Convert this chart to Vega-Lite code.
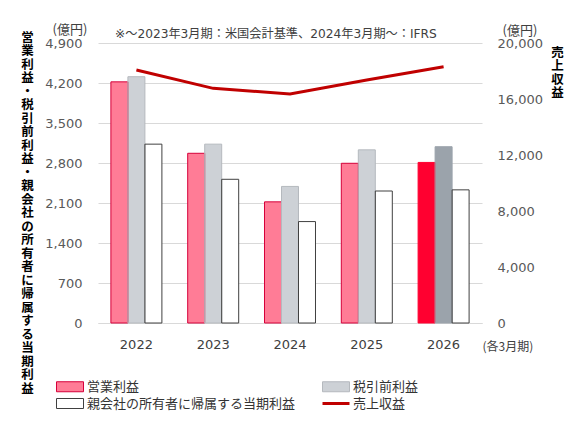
{
  "$schema": "https://vega.github.io/schema/vega-lite/v6.json",
  "width": 384,
  "height": 280,
  "autosize": "none",
  "padding": {"left": 98, "top": 43, "right": 102, "bottom": 102},
  "background": "white",
  "title": {
    "text": "※～2023年3月期：米国会計基準、2024年3月期～：IFRS",
    "anchor": "start",
    "frame": "group",
    "dx": 17,
    "dy": 33,
    "offset": 4,
    "baseline": "bottom",
    "font": "DejaVu Sans, Noto Sans CJK JP",
    "fontSize": 12.2,
    "fontWeight": "normal",
    "color": "#404040"
  },
  "datasets": {
    "bars": [
      {"year": "2022", "series": "営業利益", "group": "営業利益", "value": 4220},
      {"year": "2022", "series": "税引前利益", "group": "税引前利益", "value": 4310},
      {"year": "2022", "series": "親会社の所有者に帰属する当期利益", "group": "親会社の所有者に帰属する当期利益", "value": 3130},
      {"year": "2023", "series": "営業利益", "group": "営業利益", "value": 2970},
      {"year": "2023", "series": "税引前利益", "group": "税引前利益", "value": 3130},
      {"year": "2023", "series": "親会社の所有者に帰属する当期利益", "group": "親会社の所有者に帰属する当期利益", "value": 2515},
      {"year": "2024", "series": "営業利益", "group": "営業利益", "value": 2120},
      {"year": "2024", "series": "税引前利益", "group": "税引前利益", "value": 2390},
      {"year": "2024", "series": "親会社の所有者に帰属する当期利益", "group": "親会社の所有者に帰属する当期利益", "value": 1775},
      {"year": "2025", "series": "営業利益", "group": "営業利益", "value": 2795},
      {"year": "2025", "series": "税引前利益", "group": "税引前利益", "value": 3030},
      {"year": "2025", "series": "親会社の所有者に帰属する当期利益", "group": "親会社の所有者に帰属する当期利益", "value": 2310},
      {"year": "2026", "series": "営業利益", "group": "営業利益（予想）", "value": 2810},
      {"year": "2026", "series": "税引前利益", "group": "税引前利益（予想）", "value": 3085},
      {"year": "2026", "series": "親会社の所有者に帰属する当期利益", "group": "親会社の所有者に帰属する当期利益（予想）", "value": 2330}
    ],
    "revenue": [
      {"year": "2022", "revenue": 18070},
      {"year": "2023", "revenue": 16760},
      {"year": "2024", "revenue": 16360},
      {"year": "2025", "revenue": 17360},
      {"year": "2026", "revenue": 18300}
    ]
  },
  "layer": [
    {
      "data": {"name": "bars"},
      "mark": {"type": "bar"},
      "encoding": {
        "x": {
          "field": "year",
          "type": "nominal",
          "scale": {"paddingInner": 0.336, "paddingOuter": 0.168},
          "axis": {
            "labelAngle": 0,
            "domain": true,
            "domainColor": "#d9d9d9",
            "ticks": false,
            "grid": false,
            "labelPadding": 15,
            "labelFont": "DejaVu Sans",
            "labelFontSize": 13,
            "labelColor": "#404040",
            "title": "(各3月期)",
            "titleX": 384,
            "titleY": 23,
            "titleAlign": "left",
            "titleBaseline": "middle",
            "titleFont": "Noto Sans CJK JP",
            "titleFontWeight": "normal",
            "titleFontSize": 12,
            "titleColor": "#404040"
          }
        },
        "xOffset": {
          "field": "series",
          "type": "nominal",
          "sort": ["営業利益", "税引前利益", "親会社の所有者に帰属する当期利益"],
          "scale": {"paddingInner": 0, "paddingOuter": 0}
        },
        "y": {
          "field": "value",
          "type": "quantitative",
          "scale": {"domain": [0, 4900]},
          "axis": {
            "orient": "left",
            "values": [0, 700, 1400, 2100, 2800, 3500, 4200, 4900],
            "format": ",d",
            "grid": true,
            "gridColor": "#d9d9d9",
            "domain": false,
            "ticks": false,
            "labelPadding": 16,
            "labelFont": "DejaVu Sans",
            "labelFontSize": 13,
            "labelColor": "#595959",
            "title": ["営","業","利","益","・","税","引","前","利","益","・","親","会","社","の","所","有","者","に","帰","属","す","る","当","期","利","益"],
            "titleAngle": 0,
            "titleX": -71,
            "titleY": -12,
            "titleAlign": "center",
            "titleBaseline": "top",
            "titleFont": "Noto Sans CJK JP",
            "titleFontWeight": "bold",
            "titleFontSize": 12.5,
            "titleLineHeight": 13.5,
            "titleColor": "#000000"
          }
        },
        "fill": {
          "field": "group",
          "type": "nominal",
          "scale": {
            "domain": ["営業利益", "税引前利益", "親会社の所有者に帰属する当期利益", "売上収益", "営業利益（予想）", "税引前利益（予想）", "親会社の所有者に帰属する当期利益（予想）"],
            "range": ["#ff7c96", "#cdd1d6", "#ffffff", "#c00000", "#ff0030", "#9ba3ab", "#ffffff"]
          },
          "legend": {
            "values": ["営業利益", "税引前利益", "親会社の所有者に帰属する当期利益", "売上収益"],
            "title": null,
            "orient": "none",
            "direction": "horizontal",
            "legendX": -34.5,
            "legendY": 337,
            "columns": 2,
            "columnPadding": 21,
            "rowPadding": 2,
            "symbolSize": 100,
            "labelOffset": 10.5,
            "labelFont": "Noto Sans CJK JP",
            "labelFontSize": 13,
            "labelColor": "#333333",
            "labelLimit": 400,
            "padding": 0,
            "encoding": {
              "symbols": {
                "shape": {"value": {"expr": "datum.value === '売上収益' ? 'M-2.7,0H2.7' : 'M-2.7,-1H2.7V1H-2.7Z'"}},
                "stroke": {"value": {"expr": "datum.value === '売上収益' ? '#c00000' : datum.value === '営業利益' ? '#d6003a' : datum.value === '税引前利益' ? '#b5b9be' : '#404040'"}},
                "strokeWidth": {"value": {"expr": "datum.value === '売上収益' ? 3 : 1"}},
                "opacity": {"value": 1}
              }
            }
          }
        }
      }
    },
    {
      "data": {"name": "bars"},
      "mark": {"type": "bar", "fillOpacity": 0, "strokeWidth": 1},
      "encoding": {
        "x": {"field": "year", "type": "nominal"},
        "xOffset": {
          "field": "series",
          "type": "nominal",
          "sort": ["営業利益", "税引前利益", "親会社の所有者に帰属する当期利益"]
        },
        "y": {"field": "value", "type": "quantitative", "scale": {"domain": [0, 4900]}, "axis": null},
        "stroke": {
          "field": "group",
          "type": "nominal",
          "scale": {
            "domain": ["営業利益", "税引前利益", "親会社の所有者に帰属する当期利益", "売上収益", "営業利益（予想）", "税引前利益（予想）", "親会社の所有者に帰属する当期利益（予想）"],
            "range": ["#d6003a", "#b5b9be", "#404040", "#c00000", "#ff0030", "#9ba3ab", "#404040"]
          },
          "legend": null
        }
      }
    },
    {
      "data": {"name": "revenue"},
      "mark": {"type": "line", "strokeWidth": 3, "color": "#c00000"},
      "encoding": {
        "x": {"field": "year", "type": "nominal"},
        "y": {
          "field": "revenue",
          "type": "quantitative",
          "scale": {"domain": [0, 20000]},
          "axis": {
            "orient": "right",
            "values": [0, 4000, 8000, 12000, 16000, 20000],
            "format": ",d",
            "grid": false,
            "domain": false,
            "ticks": false,
            "labelPadding": 15,
            "labelFont": "DejaVu Sans",
            "labelFontSize": 13,
            "labelColor": "#595959",
            "title": ["売","上","収","益"],
            "titleAngle": 0,
            "titleX": 75,
            "titleY": 3,
            "titleAlign": "center",
            "titleBaseline": "top",
            "titleFont": "Noto Sans CJK JP",
            "titleFontWeight": "bold",
            "titleFontSize": 12.5,
            "titleLineHeight": 13.5,
            "titleColor": "#000000"
          }
        }
      }
    },
    {
      "data": {"values": [{"label": "(億円)"}]},
      "mark": {"type": "text", "font": "Noto Sans CJK JP", "fontSize": 13, "color": "#404040", "dx": -28, "dy": -13, "align": "center", "baseline": "middle"},
      "encoding": {
        "x": {"value": 0},
        "y": {"datum": 4900, "type": "quantitative", "scale": {"domain": [0, 4900]}, "axis": null},
        "text": {"field": "label"}
      }
    },
    {
      "data": {"values": [{"label": "(億円)"}]},
      "mark": {"type": "text", "font": "Noto Sans CJK JP", "fontSize": 13, "color": "#404040", "dx": 38, "dy": -12, "align": "center", "baseline": "middle"},
      "encoding": {
        "x": {"value": "width"},
        "y": {"datum": 20000, "type": "quantitative", "scale": {"domain": [0, 20000]}, "axis": null},
        "text": {"field": "label"}
      }
    }
  ],
  "resolve": {"scale": {"y": "independent"}},
  "config": {
    "view": {"stroke": null}
  }
}
